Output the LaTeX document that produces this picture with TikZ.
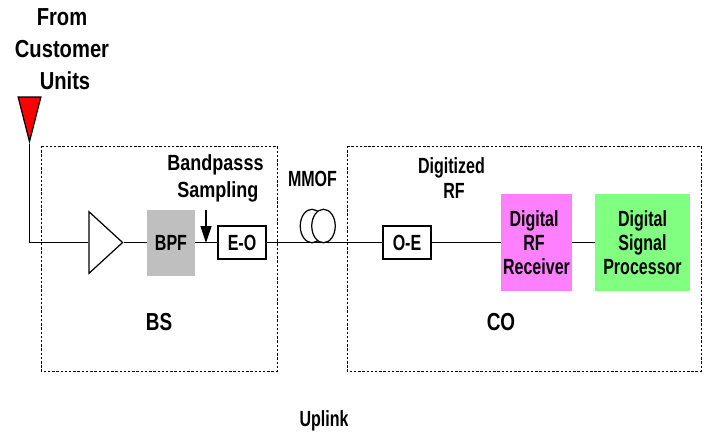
\documentclass[tikz,border=0pt]{standalone}
\usepackage{fontspec}
\setmainfont{Liberation Sans}[FakeStretch=0.82]
\newfontfamily\narrowfont{Liberation Sans}[FakeStretch=0.73]
\newfontfamily\sitefont{Liberation Sans}[FakeStretch=0.77]
\usetikzlibrary{arrows.meta,shapes.geometric}

\tikzset{
	wire/.style={line width=0.7pt},
	label/.style={font=\narrowfont\bfseries\fontsize{12.5}{13.6}\selectfont, align=center, inner sep=0},
	widelabel/.style={font=\bfseries\fontsize{12.5}{15.3}\selectfont, align=center, inner sep=0},
	biglabel/.style={font=\bfseries\fontsize{14}{18.1}\selectfont, align=center, inner sep=0},
	sitelabel/.style={font=\sitefont\bfseries\fontsize{14}{18.1}\selectfont, inner sep=0},
	site/.style={draw, line width=0.5pt, dash pattern=on 1.4pt off 1pt},
	blockbox/.style={label, minimum width=#1, minimum height=0.66cm},
	tallbox/.style={label, minimum height=1.94cm},
	coil/.style={draw, wire, fill=white, ellipse, minimum width=0.47cm, minimum height=0.67cm, inner sep=0}
}

\begin{document}
\begin{tikzpicture}[x=0.02cm, y=-0.02cm]
	
		\useasboundingbox (0,0) rectangle (710,434);
		
		% draw dashed sites
		\draw[site] (41,146) rectangle (277,371);
		\draw[site] (347,146) rectangle (701,371);
		
		% draw antenna and amplifier
		\node[draw, wire, fill=red, isosceles triangle, isosceles triangle apex angle=28.7, shape border rotate=-90, minimum height=0.89cm, inner sep=0, anchor=apex] (antenna) at (29.5,144) {};
		\node[draw, wire, fill=white, isosceles triangle, isosceles triangle apex angle=85, minimum height=0.67cm, inner sep=0, anchor=apex] (amp) at (123.5,242.5) {};
		
		% draw blocks
		\node[blockbox=0.96cm, fill=black!25, minimum height=1.32cm] (bpf) at (171,242.5) {BPF};
		\node[blockbox=0.96cm, draw, wire] (eo) at (242,242.5) {E-O};
		\node[blockbox=0.96cm, draw, wire] (oe) at (407,242.5) {O-E};
		\node[tallbox, minimum width=1.42cm, fill={rgb,255:red,255;green,128;blue,255}] (receiver) at (536.5,242.5) {Digital\kern2.8pt\\RF\kern2.8pt\\Receiver};
		\node[tallbox, minimum width=1.9cm, fill={rgb,255:red,128;green,255;blue,128}] (processor) at (642.5,242.5) {Digital\\Signal\\Processor};
		
		% draw fibre coil
		\node[coil] (coilleft) at (312,226) {};
		\node[coil] (coilright) at (323.5,226) {};
		
		% draw signal path
		\coordinate (corner) at (antenna.apex |- amp.apex);
		\coordinate (ampin) at (amp.west |- amp.apex);
		\draw[wire] (antenna.apex) -- (corner) -- (ampin);
		\draw[wire] (amp.apex) -- (bpf);
		\draw[wire] (bpf) -- (eo);
		\draw[wire] (eo) -- (oe);
		\draw[wire] (oe) -- (receiver);
		\draw[wire] (receiver) -- (processor);
		
		% draw sampling arrow
		\coordinate (samplestart) at (206,210);
		\coordinate (sampleend) at (206,243);
		\draw[wire, -{Triangle[length=0.34cm, width=0.22cm]}] (samplestart) -- (sampleend);
		
		% draw labels
		\node[biglabel] (from) at (62,49) {From\\Customer\\\kern3.4pt Units};
		\node[widelabel] (sampling) at (215.5,178.5) {Bandpasss\\\kern2.8pt Sampling};
		\node[label] (mmof) at (312.5,179) {MMOF};
		\node[label, font=\narrowfont\bfseries\fontsize{12.5}{14.2}\selectfont] (digitized) at (451.5,178.5) {Digitized\\\kern2.8pt RF};
		\node[sitelabel] (bs) at (159,322) {BS};
		\node[sitelabel] (co) at (501,322) {CO};
		\node[label] (uplink) at (324,421) {Uplink};
	\end{tikzpicture}
\end{document}
